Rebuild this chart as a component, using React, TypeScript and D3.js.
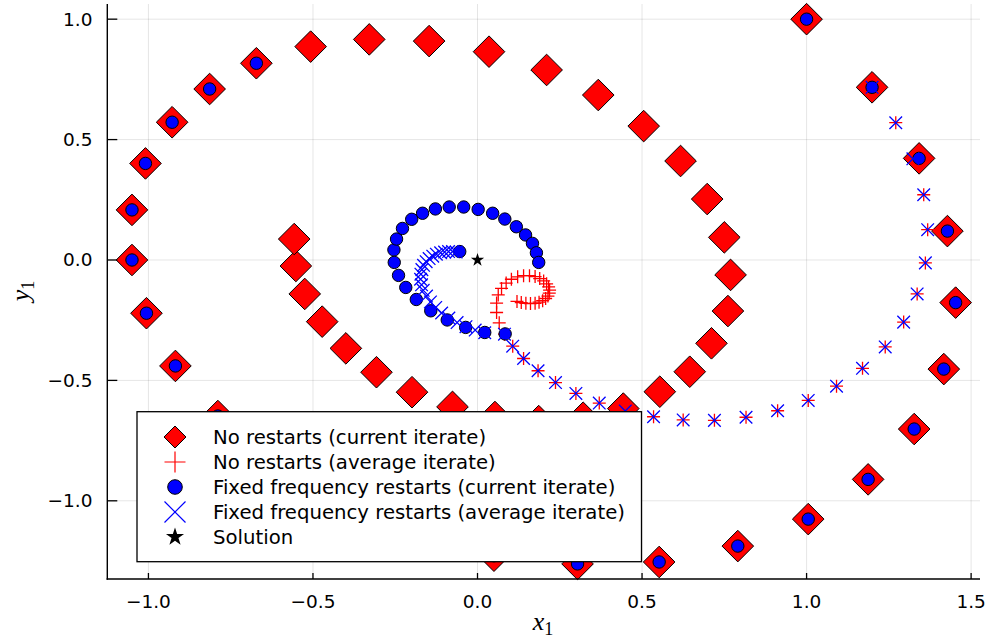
import React from "react";
import * as d3 from "d3";

// No restarts (current iterate)
const noRestartCurX = [1.0, 1.199, 1.342, 1.428, 1.453, 1.417, 1.327, 1.187, 1.005, 0.791, 0.552, 0.304, 0.05, -0.2, -0.43, -0.63, -0.789, -0.918, -1.006, -1.05, -1.05, -1.009, -0.928, -0.814, -0.672, -0.507, -0.329, -0.147, 0.035, 0.21, 0.367, 0.505, 0.617, 0.698, 0.75, 0.769, 0.761, 0.711, 0.645, 0.554, 0.443, 0.321, 0.186, 0.053, -0.076, -0.199, -0.307, -0.4, -0.472, -0.525, -0.552, -0.557];
const noRestartCurY = [1.0, 0.717, 0.422, 0.12, -0.177, -0.453, -0.702, -0.911, -1.076, -1.188, -1.254, -1.262, -1.228, -1.14, -1.01, -0.84, -0.648, -0.44, -0.221, 0.0, 0.208, 0.401, 0.572, 0.71, 0.817, 0.886, 0.916, 0.909, 0.865, 0.789, 0.685, 0.556, 0.411, 0.253, 0.094, -0.062, -0.212, -0.346, -0.464, -0.547, -0.617, -0.655, -0.669, -0.652, -0.61, -0.549, -0.466, -0.367, -0.256, -0.141, -0.025, 0.087];

// No restarts (average iterate)
const noRestartAvgX = [1.199, 1.271, 1.323, 1.356, 1.368, 1.361, 1.336, 1.295, 1.239, 1.17, 1.091, 1.005, 0.912, 0.816, 0.72, 0.625, 0.535, 0.449, 0.37, 0.299, 0.237, 0.184, 0.14, 0.107, 0.082, 0.066, 0.058, 0.058, 0.063, 0.073, 0.087, 0.103, 0.122, 0.14, 0.158, 0.175, 0.189, 0.201, 0.21, 0.216, 0.219, 0.218, 0.214, 0.207, 0.198, 0.187, 0.175, 0.161, 0.147, 0.133, 0.12];
const noRestartAvgY = [0.717, 0.57, 0.42, 0.271, 0.126, -0.012, -0.141, -0.258, -0.361, -0.45, -0.524, -0.583, -0.626, -0.653, -0.666, -0.664, -0.651, -0.627, -0.594, -0.554, -0.509, -0.46, -0.409, -0.358, -0.308, -0.261, -0.218, -0.179, -0.145, -0.118, -0.096, -0.08, -0.07, -0.065, -0.065, -0.069, -0.077, -0.087, -0.099, -0.112, -0.125, -0.138, -0.15, -0.16, -0.169, -0.175, -0.18, -0.181, -0.18, -0.177, -0.172];

// Fixed frequency restarts (current iterate)
const restartCurX = [1.0, 1.199, 1.342, 1.428, 1.453, 1.417, 1.327, 1.187, 1.005, 0.791, 0.552, 0.304, 0.05, -0.2, -0.43, -0.63, -0.789, -0.918, -1.006, -1.05, -1.05, -1.009, -0.928, -0.814, -0.672, 0.084, 0.022, -0.036, -0.092, -0.142, -0.186, -0.218, -0.24, -0.253, -0.254, -0.246, -0.228, -0.2, -0.167, -0.128, -0.086, -0.042, 0.002, 0.046, 0.083, 0.118, 0.146, 0.167, 0.179, 0.186, -0.054];
const restartCurY = [1.0, 0.717, 0.422, 0.12, -0.177, -0.453, -0.702, -0.911, -1.076, -1.188, -1.254, -1.262, -1.228, -1.14, -1.01, -0.84, -0.648, -0.44, -0.221, 0.0, 0.208, 0.401, 0.572, 0.71, 0.817, -0.307, -0.301, -0.28, -0.249, -0.211, -0.164, -0.114, -0.064, -0.01, 0.042, 0.087, 0.131, 0.169, 0.194, 0.212, 0.22, 0.22, 0.21, 0.194, 0.17, 0.138, 0.104, 0.069, 0.03, -0.01, 0.035];

// Fixed frequency restarts (average iterate)
const restartAvgX = [1.199, 1.271, 1.323, 1.356, 1.368, 1.361, 1.336, 1.295, 1.239, 1.17, 1.091, 1.005, 0.912, 0.816, 0.72, 0.625, 0.535, 0.449, 0.37, 0.299, 0.237, 0.184, 0.14, 0.107, 0.082, 0.022, -0.007, -0.035, -0.062, -0.087, -0.109, -0.127, -0.143, -0.155, -0.165, -0.17, -0.173, -0.172, -0.169, -0.164, -0.156, -0.147, -0.136, -0.125, -0.112, -0.1, -0.088, -0.076, -0.065];
const restartAvgY = [0.717, 0.57, 0.42, 0.271, 0.126, -0.012, -0.141, -0.258, -0.361, -0.45, -0.524, -0.583, -0.626, -0.653, -0.666, -0.664, -0.651, -0.627, -0.594, -0.554, -0.509, -0.46, -0.409, -0.358, -0.308, -0.302, -0.291, -0.277, -0.26, -0.241, -0.22, -0.197, -0.174, -0.15, -0.126, -0.103, -0.08, -0.059, -0.04, -0.022, -0.007, 0.006, 0.016, 0.024, 0.03, 0.033, 0.035, 0.035, 0.033];

// Solution
const solutionX = [0.0];
const solutionY = [0.0];

const xTicks = [-1.0, -0.5, 0.0, 0.5, 1.0, 1.5];
const yTicks = [-1.0, -0.5, 0.0, 0.5, 1.0];
const legendLabels = [
  "No restarts (current iterate)",
  "No restarts (average iterate)",
  "Fixed frequency restarts (current iterate)",
  "Fixed frequency restarts (average iterate)",
  "Solution",
];

const W = 990;
const H = 641;
const PL = 107.3, PR = 980, PT = 4, PB = 579;

const xs = d3.scaleLinear().domain([-1.125, 1.527]).range([PL, PR]);
const ys = d3.scaleLinear().domain([-1.3247, 1.063]).range([PB, PT]);

const fmt = (v: number) => (v < 0 ? "\u2212" : "") + Math.abs(v).toFixed(1);

const diamond = (cx: number, cy: number, h: number) =>
  `M${cx},${cy - h}L${cx + h},${cy}L${cx},${cy + h}L${cx - h},${cy}Z`;
const plus = (cx: number, cy: number, h: number) =>
  `M${cx - h},${cy}H${cx + h}M${cx},${cy - h}V${cy + h}`;
const cross = (cx: number, cy: number, h: number) =>
  `M${cx - h},${cy - h}L${cx + h},${cy + h}M${cx - h},${cy + h}L${cx + h},${cy - h}`;
const star = (r: number) =>
  d3.symbol().type(d3.symbolStar).size((r * r) / 0.8908130915292852)() as string;

const FONT = "DejaVu Sans";

export default function App() {
  const legendRows = [437, 462, 487, 512, 537];
  return (
    <svg
      width={W}
      height={H}
      style={{ position: "absolute", left: 0, top: 0, background: "#fff" }}
      fontFamily={FONT}
    >
      <rect x={0} y={0} width={W} height={H} fill="#fff" />
      {/* grid */}
      {xTicks.map((t) => (
        <line key={"gx" + t} x1={xs(t)} x2={xs(t)} y1={PT} y2={PB} stroke="#000" strokeOpacity={0.1} strokeWidth={1} />
      ))}
      {yTicks.map((t) => (
        <line key={"gy" + t} x1={PL} x2={PR} y1={ys(t)} y2={ys(t)} stroke="#000" strokeOpacity={0.1} strokeWidth={1} />
      ))}

      {/* series 1: diamonds */}
      {noRestartCurX.map((v, i) => (
        <path key={"d" + i} d={diamond(xs(v), ys(noRestartCurY[i]), 15.8)} fill="#ff0000" stroke="#000" strokeWidth={1} />
      ))}
      {/* series 2: red plus */}
      {noRestartAvgX.map((v, i) => (
        <path key={"p" + i} d={plus(xs(v), ys(noRestartAvgY[i]), 6.5)} fill="none" stroke="#ff0000" strokeWidth={1.3} />
      ))}
      {/* series 3: blue circles */}
      {restartCurX.map((v, i) => (
        <circle key={"c" + i} cx={xs(v)} cy={ys(restartCurY[i])} r={6.2} fill="#0000ff" stroke="#000" strokeWidth={1} />
      ))}
      {/* series 4: blue x */}
      {restartAvgX.map((v, i) => (
        <path key={"x" + i} d={cross(xs(v), ys(restartAvgY[i]), 6.3)} fill="none" stroke="#0000ff" strokeWidth={1.3} />
      ))}
      {/* series 5: star */}
      {solutionX.map((v, i) => (
        <path key={"s" + i} d={star(7)} transform={`translate(${xs(v)},${ys(solutionY[i])})`} fill="#000" />
      ))}

      {/* axes */}
      <line x1={PL} x2={PL} y1={PT} y2={PB + 0.7} stroke="#000" strokeWidth={1.4} />
      <line x1={PL - 0.7} x2={PR} y1={PB} y2={PB} stroke="#000" strokeWidth={1.4} />
      {yTicks.map((t) => (
        <g key={"ty" + t}>
          <line x1={PL} x2={PL + 10} y1={ys(t)} y2={ys(t)} stroke="#000" strokeWidth={1.3} />
          <text x={92.5} y={ys(t)} textAnchor="end" dominantBaseline="central" fontSize={18.5} fill="#000">
            {fmt(t)}
          </text>
        </g>
      ))}
      {xTicks.map((t) => (
        <g key={"tx" + t}>
          <line x1={xs(t)} x2={xs(t)} y1={PB} y2={PB - 6} stroke="#000" strokeWidth={1.3} />
          <text x={xs(t)} y={601} textAnchor="middle" dominantBaseline="central" fontSize={18.5} fill="#000">
            {fmt(t)}
          </text>
        </g>
      ))}

      {/* axis labels */}
      <text x={543} y={630} textAnchor="middle" fontFamily="Liberation Serif" fontSize={26} fill="#000">
        <tspan fontStyle="italic">x</tspan>
        <tspan fontSize={18} dy={5}>1</tspan>
      </text>
      <text
        transform={`translate(29,291) rotate(-90)`}
        textAnchor="middle"
        fontFamily="Liberation Serif"
        fontSize={26}
        fill="#000"
      >
        <tspan fontStyle="italic">y</tspan>
        <tspan fontSize={18} dy={5}>1</tspan>
      </text>

      {/* legend */}
      <rect x={137} y={411.7} width={504.5} height={150} fill="#fff" stroke="#000" strokeWidth={1.3} />
      <path d={diamond(175, legendRows[0], 11)} fill="#ff0000" stroke="#000" strokeWidth={1} />
      <path d={plus(175, legendRows[1], 10.5)} fill="none" stroke="#ff0000" strokeWidth={1.2} />
      <circle cx={175} cy={legendRows[2]} r={7.3} fill="#0000ff" stroke="#000" strokeWidth={1} />
      <path d={cross(175, legendRows[3], 10.5)} fill="none" stroke="#0000ff" strokeWidth={1.2} />
      <path d={star(9.5)} transform={`translate(175,${legendRows[4]})`} fill="#000" />
      {legendLabels.map((l, i) => (
        <text key={"l" + i} x={213} y={legendRows[i]} dominantBaseline="central" fontSize={19.7} fill="#000">
          {l}
        </text>
      ))}
    </svg>
  );
}
